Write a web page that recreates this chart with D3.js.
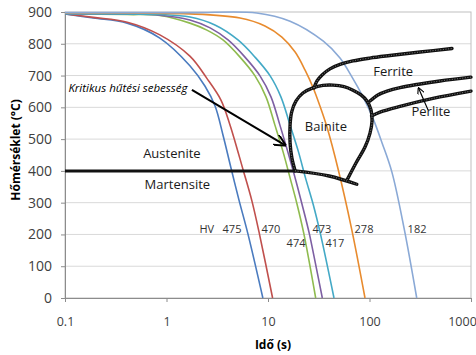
<!DOCTYPE html>
<html>
<head>
<meta charset="utf-8">
<script src="https://cdn.jsdelivr.net/npm/d3@7"></script>
<style>
  body { margin: 0; background: #fff; }
  text { font-family: "Open Sans", sans-serif; }
</style>
</head>
<body>
<svg id="chart" width="476" height="355"></svg>
<script>
// cooling curves: [time s, temperature °C]
var blueCurve   = [[0.1,894],[0.19,881],[0.41,865],[0.86,818],[1.7,731],[2.39,667],[3.01,604],[3.6,513],[4.32,409],[5.18,308],[6.35,201],[8.9,0]];
var redCurve    = [[0.1,894],[0.19,883],[0.41,868],[0.86,828],[1.7,761],[2.49,692],[3.44,623],[4.23,544],[5.69,403],[6.91,308],[8.24,201],[11.1,0]];
var greenCurve  = [[0.1,894],[0.41,892],[0.86,889],[1.7,865],[2.5,843],[3.6,812],[5.3,758],[7.45,699],[9.55,633],[11.7,544],[14.1,459],[16.5,378],[19.3,296],[22.6,201],[29.5,0]];
var purpleCurve = [[0.1,894],[0.86,890],[1.7,875],[2.69,850],[4.04,812],[5.93,758],[8.34,699],[10.7,633],[13.1,544],[15.7,459],[18.5,378],[21.6,296],[25.6,201],[34.3,0]];
var tealCurve   = [[0.1,895],[0.86,892],[1.7,884],[3.0,859],[5.06,812],[7.45,758],[10.5,699],[13.4,633],[16.5,544],[20.0,459],[23.4,378],[27.8,296],[32.9,201],[44.7,0]];
var orangeCurve = [[0.1,897],[1.7,894],[5.3,881],[9.33,856],[13.7,821],[18.5,774],[23.2,717],[27.9,661],[32.5,604],[38.1,538],[49.3,403],[66.4,220],[90.3,0]];
var lightCurve  = [[0.1,898],[1.7,898],[7.74,897],[16.5,871],[35.1,808],[51.2,755],[67.3,695],[86.3,633],[108,566],[133,488],[166,397],[219,220],[292,0]];

var curveColors = ["#4a7bbf", "#c0504d", "#8fbb4f", "#7d5fa3", "#43a9c6", "#e88b2e", "#8aa9d6"];

// phase boundaries
var austLine     = [[0.1,400],[18.5,400]];
var bainiteEdge  = [[18.5,400],[17.2,440],[16.5,488],[16.5,544],[17.1,585],[18.9,620],[22.1,645],[27.7,661],[34.8,669],[43.7,670],[56.1,665],[68.7,654],[82.4,639],[94.4,620],[103.5,592],[105.9,557],[101.2,519],[90.3,475],[73.6,425],[60.0,371]];
var bainiteFloor = [[18.5,400],[40,384],[75,358]];
var ferriteLine  = [[28.4,661],[30.4,683],[34.1,702],[40.8,721],[51.2,735],[68.7,746],[101,755],[159,763],[315,774],[650,785]];
var perliteUpper = [[101,620],[121,639],[149,651],[200,662],[294,672],[495,683],[1000,695]];
var perliteLower = [[104.7,573],[127,585],[200,603],[422,628],[1000,651]];

var critArrow    = [[1.78,655],[14.7,481]];
var perliteArrow = [[377,592],[304,661]];

var yTicks = [0,100,200,300,400,500,600,700,800,900];
var xTicks = [0.1,1,10,100,1000];

var phaseLabels = [
  {text: "Ferrite", t: 171, T: 712},
  {text: "Perlite", t: 403, T: 586},
  {text: "Bainite", t: 37.2, T: 539},
  {text: "Austenite", t: 1.13, T: 456},
  {text: "Martensite", t: 1.28, T: 356}
];
var hvLabels = [
  {text: "HV", t: 2.49, T: 217},
  {text: "475", t: 4.42, T: 217},
  {text: "470", t: 10.7, T: 217},
  {text: "474", t: 18.9, T: 174},
  {text: "473", t: 34.0, T: 217},
  {text: "417", t: 45.7, T: 174},
  {text: "278", t: 88.3, T: 217},
  {text: "182", t: 294, T: 217}
];

var svg = d3.select("#chart");
var x = d3.scaleLog().domain([0.1, 1000]).range([65, 471]);
var y = d3.scaleLinear().domain([0, 900]).range([298, 12]);

var defs = svg.append("defs");
defs.append("clipPath").attr("id", "plot")
  .append("rect").attr("x", 65).attr("y", 10).attr("width", 408).attr("height", 290);

function addArrowHead(id, size) {
  defs.append("marker")
    .attr("id", id)
    .attr("viewBox", "0 0 10 10")
    .attr("refX", 9).attr("refY", 5)
    .attr("markerUnits", "userSpaceOnUse")
    .attr("markerWidth", size).attr("markerHeight", size)
    .attr("orient", "auto")
    .append("path")
    .attr("d", "M 0 0 L 10 5 L 0 10")
    .attr("fill", "none").attr("stroke", "#000").attr("stroke-width", 1.6);
}
addArrowHead("arrow", 12);
addArrowHead("arrowSmall", 7);

// gridlines
svg.append("g").selectAll("line")
  .data(yTicks.filter(d => d > 0 && d < 900))
  .enter().append("line")
  .attr("x1", 65).attr("x2", 471)
  .attr("y1", d => y(d)).attr("y2", d => y(d))
  .attr("stroke", "#d9d9d9").attr("stroke-width", 1);

// plot border
svg.append("rect")
  .attr("x", 65).attr("y", y(900)).attr("width", 471 - 65).attr("height", y(0) - y(900))
  .attr("fill", "none").attr("stroke", "#bfbfbf").attr("stroke-width", 1);

// axes
var yAxis = svg.append("g").attr("transform", "translate(65,0)")
  .call(d3.axisLeft(y).tickValues(yTicks).tickSize(4).tickPadding(9));
var xAxis = svg.append("g").attr("transform", "translate(0,298)")
  .call(d3.axisBottom(x).tickValues(xTicks).tickFormat(d => String(d)).tickSize(4).tickPadding(15));
[yAxis, xAxis].forEach(function (a) {
  a.select(".domain").attr("stroke", "#8c8c8c");
  a.selectAll(".tick line").attr("stroke", "#8c8c8c");
  a.selectAll(".tick text").attr("fill", "#404040")
    .style("font-family", "'Open Sans', sans-serif");
});
yAxis.selectAll(".tick text").style("font-size", "14px");
xAxis.selectAll(".tick text").style("font-size", "12.5px");
xAxis.selectAll(".tick text").filter(d => d === 1000).attr("dx", -9);

// axis titles
svg.append("text")
  .attr("x", 273).attr("y", 349)
  .attr("text-anchor", "middle")
  .style("font-size", "12px").style("font-weight", "bold")
  .attr("fill", "#000")
  .text("Idő (s)");
svg.append("text")
  .attr("transform", "translate(20,150) rotate(-90)")
  .attr("text-anchor", "middle")
  .style("font-size", "12px").style("font-weight", "bold")
  .attr("fill", "#000")
  .text("Hőmérséklet (°C)");

// cooling curves
var line = d3.line().x(d => x(d[0])).y(d => y(d[1])).curve(d3.curveCatmullRom.alpha(0.5));
var curves = [blueCurve, redCurve, greenCurve, purpleCurve, tealCurve, orangeCurve, lightCurve];
svg.append("g").attr("clip-path", "url(#plot)").selectAll("path")
  .data(curves)
  .enter().append("path")
  .attr("d", line)
  .attr("fill", "none")
  .attr("stroke", (d, i) => curveColors[i])
  .attr("stroke-width", 1.6);

// phase boundaries, drawn like a marker stroke
var bounds = [bainiteEdge, bainiteFloor, ferriteLine, perliteUpper, perliteLower];
var bg = svg.append("g");
bg.selectAll("path.bound")
  .data(bounds)
  .enter().append("path")
  .attr("class", "bound")
  .attr("d", line)
  .attr("fill", "none")
  .attr("stroke", "#111")
  .attr("stroke-width", 3.4)
  .attr("stroke-linecap", "round");
bg.selectAll("path.hatch")
  .data(bounds)
  .enter().append("path")
  .attr("class", "hatch")
  .attr("d", line)
  .attr("fill", "none")
  .attr("stroke", "#fff")
  .attr("stroke-opacity", 0.55)
  .attr("stroke-width", 0.8)
  .attr("stroke-dasharray", "1 1.6");

var straight = d3.line().x(d => x(d[0])).y(d => y(d[1]));
svg.append("path")
  .attr("d", straight(austLine))
  .attr("stroke", "#111").attr("stroke-width", 3).attr("fill", "none");

// arrows
svg.append("path").attr("d", straight(critArrow))
  .attr("stroke", "#000").attr("stroke-width", 2).attr("fill", "none")
  .attr("marker-end", "url(#arrow)");
svg.append("path").attr("d", straight(perliteArrow))
  .attr("stroke", "#000").attr("stroke-width", 1.2).attr("fill", "none")
  .attr("marker-end", "url(#arrowSmall)");

// labels
svg.append("g").selectAll("text")
  .data(phaseLabels)
  .enter().append("text")
  .attr("x", d => x(d.t)).attr("y", d => y(d.T))
  .attr("dy", "0.35em")
  .attr("text-anchor", "middle")
  .style("font-size", "13px")
  .attr("fill", "#1a1a1a")
  .text(d => d.text);

svg.append("text")
  .attr("x", x(0.108)).attr("y", y(661))
  .attr("dy", "0.35em")
  .style("font-size", "11.5px").style("font-style", "italic")
  .attr("fill", "#000")
  .text("Kritikus hűtési sebesség");

svg.append("g").selectAll("text")
  .data(hvLabels)
  .enter().append("text")
  .attr("x", d => x(d.t)).attr("y", d => y(d.T))
  .attr("dy", "0.35em")
  .attr("text-anchor", "middle")
  .style("font-size", "11px")
  .attr("fill", "#333")
  .text(d => d.text);
</script>
</body>
</html>
